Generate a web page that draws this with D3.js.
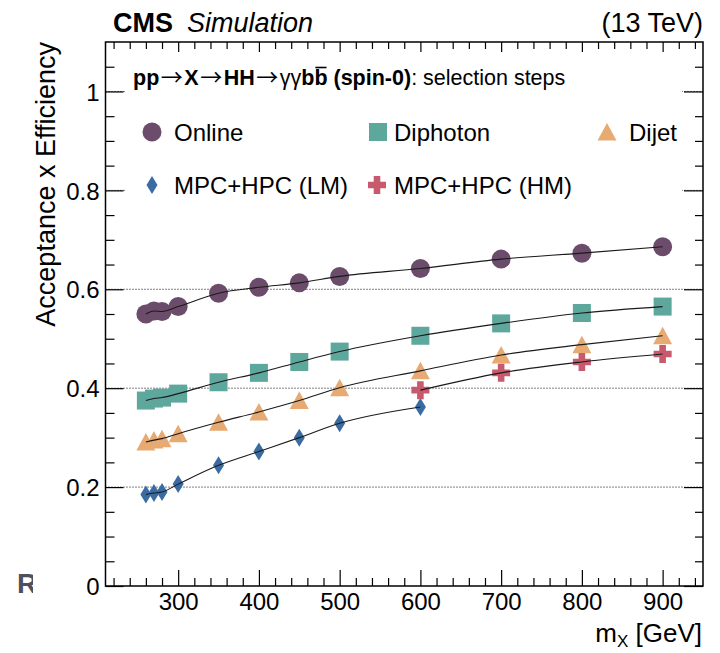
<!DOCTYPE html>
<html>
<head>
<meta charset="utf-8">
<script src="https://cdn.jsdelivr.net/npm/d3@7"></script>
<style>
  html, body { margin: 0; padding: 0; background: #fff; }
  svg { display: block; }
  text { font-family: "Liberation Sans", Arial, Helvetica, sans-serif; }
</style>
</head>
<body>
<svg id="chart" width="720" height="653"></svg>
<script>
// ---------------- data ----------------
const masses      = [260, 270, 280, 300, 350, 400, 450, 500, 600, 700, 800, 900];
const onlineEff   = [0.550, 0.556, 0.555, 0.565, 0.592, 0.604, 0.613, 0.626, 0.642, 0.661, 0.673, 0.686];
const diphotonEff = [0.375, 0.379, 0.381, 0.389, 0.412, 0.431, 0.453, 0.474, 0.506, 0.531, 0.552, 0.565];
const dijetEff    = [0.291, 0.295, 0.298, 0.308, 0.331, 0.352, 0.375, 0.401, 0.435, 0.467, 0.488, 0.506];
const lmMasses    = [260, 270, 280, 300, 350, 400, 450, 500, 600];
const lmEff       = [0.185, 0.188, 0.190, 0.206, 0.244, 0.272, 0.300, 0.329, 0.362];
const hmMasses    = [600, 700, 800, 900];
const hmEff       = [0.396, 0.431, 0.453, 0.469];

const xMajorTicks  = [300, 400, 500, 600, 700, 800, 900];
const xTickLabels  = ["300", "400", "500", "600", "700", "800", "900"];
const yMajorTicks  = [0, 0.2, 0.4, 0.6, 0.8, 1.0];
const yTickLabels  = ["0", "0.2", "0.4", "0.6", "0.8", "1"];
const gridValues   = [0.2, 0.4, 0.6, 0.8, 1.0];

const seriesNames  = ["Online", "Diphoton", "Dijet", "MPC+HPC (LM)", "MPC+HPC (HM)"];
const colors = {
  online:   "#6b4d6b",
  diphoton: "#5ea79d",
  dijet:    "#e6aa72",
  lm:       "#3a6ca4",
  hm:       "#c85a6e"
};

// ---------------- setup ----------------
const svg = d3.select("#chart");
const plotL = 105.5, plotR = 703, plotT = 42, plotB = 586;
const x = d3.scaleLinear().domain([210, 950]).range([plotL, plotR]);
const y = d3.scaleLinear().domain([0, 1.1]).range([plotB, plotT]);

const xMinor = d3.range(220, 950, 20).filter(v => v % 100 !== 0);
function notMajor(v) { return Math.abs(v * 5 - Math.round(v * 5)) > 1e-6; }
const yMinor = d3.range(1, 22).map(k => +(k * 0.05).toFixed(2)).filter(notMajor);

// background
svg.append("rect").attr("width", 720).attr("height", 653).attr("fill", "#fff");

// dotted grid lines
svg.append("g").selectAll("line").data(gridValues).join("line")
  .attr("x1", plotL).attr("x2", plotR)
  .attr("y1", d => y(d)).attr("y2", d => y(d))
  .attr("stroke", "#000").attr("stroke-width", 1)
  .attr("stroke-dasharray", "1,2");

// ---------------- markers ----------------
function drawMarker(g, type, cx, cy, color) {
  if (type === "circle") {
    g.append("circle").attr("cx", cx).attr("cy", cy).attr("r", 9.5).attr("fill", color);
  } else if (type === "square") {
    g.append("rect").attr("x", cx - 9).attr("y", cy - 9).attr("width", 18).attr("height", 18).attr("fill", color);
  } else if (type === "triangle") {
    g.append("path").attr("d", `M${cx},${cy - 9}L${cx + 9.5},${cy + 8.5}L${cx - 9.5},${cy + 8.5}Z`).attr("fill", color);
  } else if (type === "diamond") {
    g.append("path").attr("d", `M${cx},${cy - 9}L${cx + 5.5},${cy}L${cx},${cy + 9}L${cx - 5.5},${cy}Z`).attr("fill", color);
  } else if (type === "cross") {
    const a = 9, t = 3.3;
    g.append("path").attr("d",
      `M${cx - t},${cy - a}H${cx + t}V${cy - t}H${cx + a}V${cy + t}H${cx + t}V${cy + a}H${cx - t}V${cy + t}H${cx - a}V${cy - t}H${cx - t}Z`)
      .attr("fill", color);
  }
}

const series = [
  { ms: masses,   vs: onlineEff,   type: "circle",   color: colors.online },
  { ms: masses,   vs: diphotonEff, type: "square",   color: colors.diphoton },
  { ms: masses,   vs: dijetEff,    type: "triangle", color: colors.dijet },
  { ms: lmMasses, vs: lmEff,       type: "diamond",  color: colors.lm },
  { ms: hmMasses, vs: hmEff,       type: "cross",    color: colors.hm }
];

const markG = svg.append("g");
series.forEach(s => {
  s.ms.forEach((m, i) => drawMarker(markG, s.type, x(m), y(s.vs[i]), s.color));
});

const line = d3.line().x(d => x(d[0])).y(d => y(d[1])).curve(d3.curveMonotoneX);
const lineG = svg.append("g");
series.forEach(s => {
  lineG.append("path")
    .attr("d", line(s.ms.map((m, i) => [m, s.vs[i]])))
    .attr("fill", "none").attr("stroke", "#1a1a1a").attr("stroke-width", 1.1);
});

// ---------------- legend box ----------------
svg.append("rect").attr("x", 125).attr("y", 60).attr("width", 557).attr("height", 150).attr("fill", "#fff");

// title line
const arrowFont = '"Noto Sans CJK JP", "DejaVu Sans", sans-serif';
const title = svg.append("text").attr("x", 133).attr("y", 85).attr("font-size", 21.5);
function arrow() {
  title.append("tspan").attr("font-family", arrowFont).attr("font-size", 22)
    .attr("dx", 1.5).text("→");
}
title.append("tspan").attr("font-weight", "bold").text("pp");
arrow();
title.append("tspan").attr("font-weight", "bold").attr("dx", 1.5).text("X");
arrow();
title.append("tspan").attr("font-weight", "bold").attr("dx", 1.5).text("HH");
arrow();
title.append("tspan").attr("dx", 1.5).text("γγ");
title.append("tspan").attr("font-weight", "bold").text("b");
title.append("tspan").attr("font-weight", "bold").text("b");
title.append("tspan").attr("font-weight", "bold").text(" (spin-0)");
title.append("tspan").text(": selection steps");
// overline on second b
{
  const node = title.node();
  const full = node.textContent;
  const idx = full.indexOf("bb") + 1;
  const ext = node.getExtentOfChar(idx);
  svg.append("line")
    .attr("x1", ext.x + 1).attr("x2", ext.x + ext.width - 1)
    .attr("y1", ext.y + 1.5).attr("y2", ext.y + 1.5)
    .attr("stroke", "#000").attr("stroke-width", 1.6);
}

const legendItems = [
  { type: "circle",   color: colors.online,   mx: 152, tx: 174, row: 0 },
  { type: "square",   color: colors.diphoton, mx: 378, tx: 394, row: 0 },
  { type: "triangle", color: colors.dijet,    mx: 607, tx: 629, row: 0 },
  { type: "diamond",  color: colors.lm,       mx: 152, tx: 174, row: 1 },
  { type: "cross",    color: colors.hm,       mx: 377, tx: 394, row: 1 }
];
const legG = svg.append("g");
legendItems.forEach((it, i) => {
  const cy = it.row === 0 ? 132 : 185;
  drawMarker(legG, it.type, it.mx, cy, it.color);
  legG.append("text").attr("x", it.tx).attr("y", cy + 8.5)
    .attr("font-size", 24).attr("fill", "#000").text(seriesNames[i]);
});

// ---------------- axes ----------------
function styleAxis(g) {
  g.select(".domain").remove();
  g.selectAll(".tick line").attr("stroke", "#000").attr("stroke-width", 1.2);
  g.selectAll(".tick text").attr("fill", "#000").attr("font-family", '"Liberation Sans", Arial, sans-serif');
}

// bottom
svg.append("g").attr("transform", `translate(0,${plotB})`)
  .call(d3.axisBottom(x).tickValues(xMajorTicks).tickSize(-16).tickPadding(7)
        .tickFormat((d, i) => xTickLabels[i]))
  .call(styleAxis)
  .call(g => g.selectAll(".tick text").attr("font-size", 24));
svg.append("g").attr("transform", `translate(0,${plotB})`)
  .call(d3.axisBottom(x).tickValues(xMinor).tickSize(-8).tickFormat(""))
  .call(styleAxis);
// top
svg.append("g").attr("transform", `translate(0,${plotT})`)
  .call(d3.axisTop(x).tickValues(xMajorTicks).tickSize(-10).tickFormat(""))
  .call(styleAxis);
svg.append("g").attr("transform", `translate(0,${plotT})`)
  .call(d3.axisTop(x).tickValues(xMinor).tickSize(-7).tickFormat(""))
  .call(styleAxis);
// left
svg.append("g").attr("transform", `translate(${plotL},0)`)
  .call(d3.axisLeft(y).tickValues(yMajorTicks).tickSize(-18).tickPadding(6)
        .tickFormat((d, i) => yTickLabels[i]))
  .call(styleAxis)
  .call(g => g.selectAll(".tick text").attr("font-size", 24).attr("dy", "0.36em"));
svg.append("g").attr("transform", `translate(${plotL},0)`)
  .call(d3.axisLeft(y).tickValues(yMinor).tickSize(-9).tickFormat(""))
  .call(styleAxis);
// right
svg.append("g").attr("transform", `translate(${plotR},0)`)
  .call(d3.axisRight(y).tickValues(yMajorTicks).tickSize(-19).tickFormat(""))
  .call(styleAxis);
svg.append("g").attr("transform", `translate(${plotR},0)`)
  .call(d3.axisRight(y).tickValues(yMinor).tickSize(-8).tickFormat(""))
  .call(styleAxis);

// frame
svg.append("rect").attr("x", plotL).attr("y", plotT)
  .attr("width", plotR - plotL).attr("height", plotB - plotT)
  .attr("fill", "none").attr("stroke", "#000").attr("stroke-width", 1.5);

// ---------------- labels ----------------
svg.append("text").attr("x", 113).attr("y", 32).attr("font-size", 27)
  .attr("font-weight", "bold").text("CMS");
svg.append("text").attr("x", 187).attr("y", 32).attr("font-size", 27)
  .attr("font-style", "italic").text("Simulation");
svg.append("text").attr("x", 703).attr("y", 32).attr("font-size", 27)
  .attr("text-anchor", "end").text("(13 TeV)");

svg.append("text")
  .attr("transform", "translate(55,42) rotate(-90)")
  .attr("text-anchor", "end").attr("font-size", 27)
  .text("Acceptance x Efficiency");

const xt = svg.append("text").attr("x", 702).attr("y", 642)
  .attr("text-anchor", "end").attr("font-size", 26);
xt.append("tspan").text("m");
xt.append("tspan").attr("font-size", 17).attr("dy", 5).text("X");
xt.append("tspan").attr("dy", -5).text(" [GeV]");

// stray clipped letter at lower left
svg.append("clipPath").attr("id", "rclip")
  .append("rect").attr("x", 0).attr("y", 560).attr("width", 33).attr("height", 40);
svg.append("text").attr("x", 17).attr("y", 593).attr("font-size", 28)
  .attr("font-family", '"DejaVu Sans", sans-serif').attr("font-weight", "bold")
  .attr("fill", "#4e505d").attr("clip-path", "url(#rclip)").text("R");
</script>
</body>
</html>
